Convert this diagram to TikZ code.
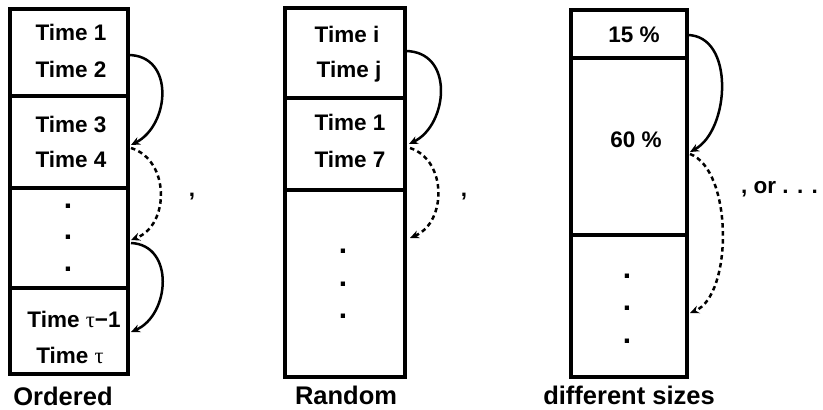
\documentclass[tikz,border=0pt]{standalone}
\usepackage{fontspec}
\setmainfont{Liberation Sans}
\newfontfamily\greekserif{Liberation Serif}
\usetikzlibrary{arrows.meta}
\tikzset{
  cell/.style={draw, line width=3.8pt, anchor=north west, inner sep=0pt, outer sep=0pt},
  txt/.style={anchor=base, inner sep=0pt, font=\bfseries\fontsize{22.5}{27}\selectfont},
  dotc/.style={anchor=base, inner sep=0pt, font=\bfseries\fontsize{30}{34}\selectfont},
  lbl/.style={anchor=base, inner sep=0pt, font=\bfseries\fontsize{25.5}{29}\selectfont},
  solidarr/.style={line width=2.5pt, -{Stealth[length=9pt,width=8pt]}},
  dasharr/.style={line width=2.5pt, dash pattern=on 4.5pt off 3.5pt, -{Stealth[length=9pt,width=8pt]}},
}
\newcommand{\tauchar}{{\greekserif\mdseries τ}}
\begin{document}
\begin{tikzpicture}[x=1pt,y=-1pt]
\useasboundingbox (0,0) rectangle (823,410);

% ---- Ordered column
\node[cell, minimum width=118pt, minimum height=87pt] (o1) at (10,9) {};
\node[cell, minimum width=118pt, minimum height=92pt] (o2) at (10,96) {};
\node[cell, minimum width=118pt, minimum height=100pt] (o3) at (10,188) {};
\node[cell, minimum width=118pt, minimum height=86pt] (o4) at (10,288) {};
\node[txt] (ot1) at (71,40) {Time 1};
\node[txt] (ot2) at (71,77) {Time 2};
\node[txt] (ot3) at (71,132) {Time 3};
\node[txt] (ot4) at (71,167) {Time 4};
\node[dotc] (od1) at (68,208) {.};
\node[dotc] (od2) at (68,239) {.};
\node[dotc] (od3) at (68,271) {.};
\node[txt] (ot5) at (74,327) {Time \tauchar−1};
\node[txt] (ot6) at (70,363) {Time \tauchar};
\node[lbl] (olab) at (63,405) {Ordered};
\node[txt] (c1) at (192,196) {,};

\coordinate (a1s) at (128,55);
\coordinate (a1e) at (131,145);
\coordinate (a2s) at (131,148);
\coordinate (a2e) at (131,240);
\coordinate (a3s) at (131,243);
\coordinate (a3e) at (131,332);
\draw[solidarr] (a1s) .. controls (175,55) and (170,125) .. (a1e);
\draw[dasharr] (a2s) .. controls (170,160) and (170,225) .. (a2e);
\draw[solidarr] (a3s) .. controls (175,245) and (170,315) .. (a3e);

% ---- Random column
\node[cell, minimum width=120pt, minimum height=90pt] (r1) at (285,8) {};
\node[cell, minimum width=120pt, minimum height=92pt] (r2) at (285,98) {};
\node[cell, minimum width=120pt, minimum height=187pt] (r3) at (285,190) {};
\node[txt] (rt1) at (347,42) {Time i};
\node[txt] (rt2) at (349,77) {Time j};
\node[txt] (rt3) at (350,130) {Time 1};
\node[txt] (rt4) at (350,167) {Time 7};
\node[dotc] (rd1) at (343,253) {.};
\node[dotc] (rd2) at (343,286) {.};
\node[dotc] (rd3) at (343,318) {.};
\node[lbl] (rlab) at (346,404) {Random};
\node[txt] (c2) at (464,196) {,};

\coordinate (b1s) at (405,51);
\coordinate (b1e) at (409,144);
\coordinate (b2s) at (410,148);
\coordinate (b2e) at (410,238);
\draw[solidarr] (b1s) .. controls (455,51) and (448,125) .. (b1e);
\draw[dasharr] (b2s) .. controls (447,160) and (447,222) .. (b2e);

% ---- Different sizes column
\node[cell, minimum width=116pt, minimum height=48pt] (s1) at (571,10) {};
\node[cell, minimum width=116pt, minimum height=177pt] (s2) at (571,58) {};
\node[cell, minimum width=116pt, minimum height=142pt] (s3) at (571,235) {};
\node[txt] (st1) at (634,42) {15 \%};
\node[txt] (st2) at (636,147) {60 \%};
\node[dotc] (sd1) at (627,278) {.};
\node[dotc] (sd2) at (627,310) {.};
\node[dotc] (sd3) at (627,343) {.};
\node[lbl] (slab) at (629,404) {different sizes};
\node[txt, anchor=base west] (c3) at (741,193) {, or . . .};

\coordinate (c1s) at (687,35);
\coordinate (c1e) at (690,152);
\coordinate (c2s) at (690,154);
\coordinate (c2e) at (690,313);
\draw[solidarr] (c1s) .. controls (735,35) and (730,130) .. (c1e);
\draw[dasharr] (c2s) .. controls (733,170) and (733,295) .. (c2e);
\end{tikzpicture}
\end{document}
